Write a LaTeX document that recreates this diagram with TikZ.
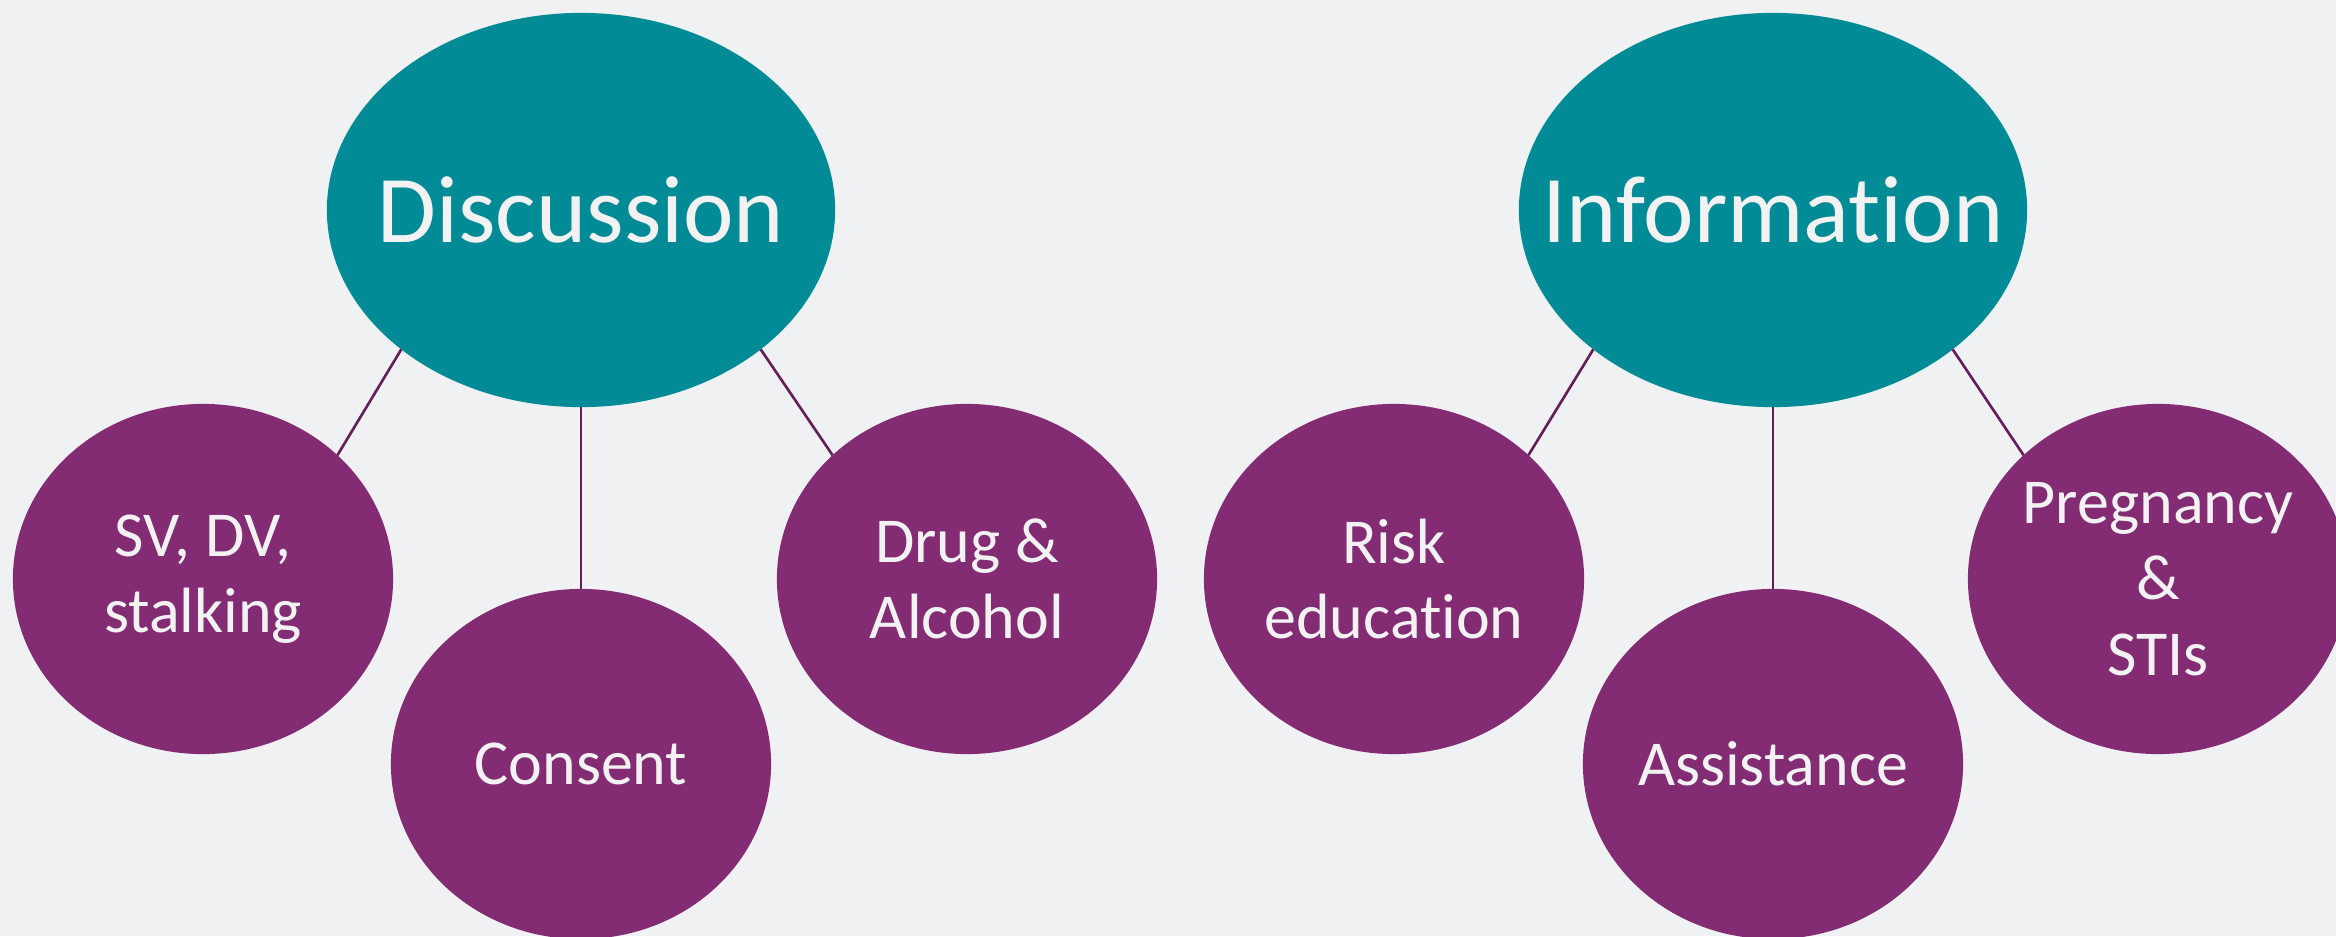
\documentclass[tikz,border=0pt]{standalone}
\usepackage{fontspec}
\setmainfont{Carlito}[Ligatures={NoCommon}]
\usetikzlibrary{shapes.geometric}
\definecolor{bg}{RGB}{240,241,243}
\definecolor{teal}{RGB}{0,139,150}
\definecolor{plum}{RGB}{131,44,116}
\definecolor{linec}{RGB}{100,30,90}
\definecolor{txt}{RGB}{242,242,242}
\tikzset{
  bigell/.style={ellipse, fill=teal, draw=none, inner sep=0pt, outer sep=0pt,
    minimum width=5.08cm, minimum height=3.94cm},
  smallell/.style={ellipse, fill=plum, draw=none, inner sep=0pt, outer sep=0pt,
    minimum width=3.80cm, minimum height=3.50cm},
  bigtxt/.style={text=txt, inner sep=0pt, font=\fontsize{27.2pt}{32pt}\selectfont},
  smalltxt/.style={text=txt, inner sep=0pt, align=center,
    font=\fontsize{18.2pt}{21.6pt}\selectfont},
  conn/.style={draw=linec, line width=0.75pt}
}
\begin{document}
\begin{tikzpicture}[x=0.01cm, y=-0.01cm]
\useasboundingbox (0,0) rectangle (2336,936);
\clip (0,0) rectangle (2336,936);
\fill[bg] (0,0) rectangle (2336,936);
% Discussion group
\node[bigell] (disc) at (581,210) {};
\node[smallell] (sv) at (203,579) {};
\node[smallell] (cons) at (581,764) {};
\node[smallell] (drug) at (967,579) {};
\node[bigtxt] (discT) at (disc.center) {Discussion};
\node[smalltxt] (svT) at (sv.center) {SV, DV,\\stalking};
\node[smalltxt] (consT) at (cons.center) {Consent};
\node[smalltxt] (drugT) at (drug.center) {Drug \&\\Alcohol};
\draw[conn] (disc.south west) -- (sv.north east);
\draw[conn] (disc.south) -- (cons.north);
\draw[conn] (disc.south east) -- (drug.north west);
% Information group
\node[bigell] (info) at (1773,210) {};
\node[smallell] (risk) at (1394,579) {};
\node[smallell] (assist) at (1773,764) {};
\node[smallell] (preg) at (2158,579) {};
\node[bigtxt] (infoT) at (info.center) {Information};
\node[smalltxt] (riskT) at (risk.center) {Risk\\education};
\node[smalltxt] (assistT) at (assist.center) {Assistance};
\node[smalltxt] (pregT) at (preg.center) {Pregnancy\\\&\\STIs};
\draw[conn] (info.south west) -- (risk.north east);
\draw[conn] (info.south) -- (assist.north);
\draw[conn] (info.south east) -- (preg.north west);
\end{tikzpicture}
\end{document}
